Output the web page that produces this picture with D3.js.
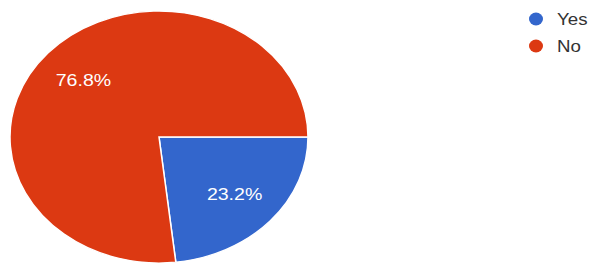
<!DOCTYPE html>
<html>
<head>
<meta charset="utf-8">
<script src="https://cdn.jsdelivr.net/npm/d3@7"></script>
<style>
  body { margin: 0; background: #fff; }
  svg { display: block; font-family: Arial, "Liberation Sans", sans-serif; }
</style>
</head>
<body>
<svg id="chart" width="597" height="269"></svg>
<script>
const categories = ["Yes", "No"];
const values = [23.2, 76.8];
const colors = ["#3366cc", "#dc3912"];

const width = 597, height = 269;
const cx = 159, cy = 137;
const rx = 149, ry = 126;

const svg = d3.select("#chart");

// slices start at 3 o'clock (Yes first), drawn on a circle then squashed
const pie = d3.pie().sort(null).value(d => d)
  .startAngle(Math.PI / 2).endAngle(Math.PI / 2 + 2 * Math.PI);
const arcs = pie(values);
const arc = d3.arc().innerRadius(0).outerRadius(rx);

const g = svg.append("g")
  .attr("transform", "translate(" + cx + "," + cy + ") scale(1," + (ry / rx) + ")");

g.selectAll("path")
  .data(arcs)
  .join("path")
  .attr("d", arc)
  .attr("fill", (d, i) => colors[i])
  .attr("stroke", "#fff")
  .attr("stroke-width", 1.5);

// percentage labels, not squashed (the picture is a bit wide, so stretch x)
const labelArc = d3.arc().innerRadius(rx * 0.68).outerRadius(rx * 0.68);
svg.append("g")
  .selectAll("text")
  .data(arcs)
  .join("text")
  .attr("transform", d => "translate(" + (cx + labelArc.centroid(d)[0]) + "," +
    (cy + labelArc.centroid(d)[1] * ry / rx) + ") scale(1.15,1)")
  .attr("text-anchor", "middle")
  .attr("dominant-baseline", "central")
  .attr("fill", "#fff")
  .attr("font-size", 17)
  .text(d => d.value.toFixed(1) + "%");

// legend
const legend = svg.append("g").attr("transform", "translate(536,19)");
const item = legend.selectAll("g")
  .data(categories)
  .join("g")
  .attr("transform", (d, i) => "translate(0," + i * 27 + ")");
item.append("ellipse")
  .attr("rx", 7).attr("ry", 6.5)
  .attr("fill", (d, i) => colors[i]);
item.append("text")
  .attr("transform", "translate(21,0) scale(1.1,1)")
  .attr("dominant-baseline", "central")
  .attr("font-size", 17)
  .attr("fill", "#333")
  .text(d => d);
</script>
</body>
</html>
